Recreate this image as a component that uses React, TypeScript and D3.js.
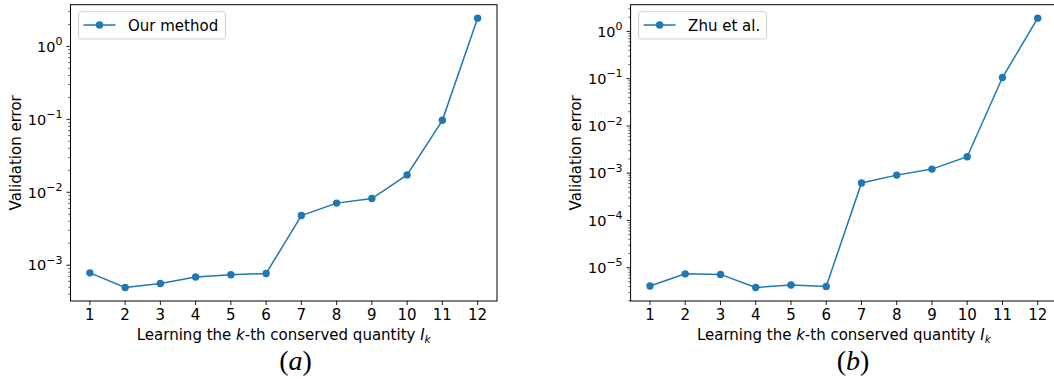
import React, { useEffect, useRef } from "react";
import * as d3 from "d3";

// k index of the conserved quantity
const ks = [1, 2, 3, 4, 5, 6, 7, 8, 9, 10, 11, 12];

// validation error
const ourMethod = [7.85e-4, 4.94e-4, 5.6e-4, 6.9e-4, 7.4e-4, 7.7e-4, 4.8e-3, 7.1e-3, 8.2e-3, 1.73e-2, 0.097, 2.44];
const zhuEtAl = [4.1e-6, 7.4e-6, 7.2e-6, 3.8e-6, 4.3e-6, 4.0e-6, 6.2e-4, 9.1e-4, 1.22e-3, 2.23e-3, 0.106, 1.91];

const seriesNames = ["Our method", "Zhu et al."];
const panelTags = ["a", "b"];

const BLUE = "#1f77b4";
const FONT = "'DejaVu Sans', sans-serif";

const App = () => {
  const svgRef = useRef<SVGSVGElement>(null);

  useEffect(() => {
    const svg = d3.select(svgRef.current);
    svg.selectAll("*").remove();

    const panels = [
      { values: ourMethod, name: seriesNames[0], tag: panelTags[0], left: 70.5, capX: 295.5, legendW: 147 },
      { values: zhuEtAl, name: seriesNames[1], tag: panelTags[1], left: 630.6, capX: 853, legendW: 128 },
    ];
    const top = 4.7;
    const plotW = 426.5;
    const plotH = 296.3;

    panels.forEach((p) => {
      const g = svg.append("g").attr("transform", `translate(${p.left},${top})`);

      const x = d3.scaleLinear().domain([0.45, 12.55]).range([0, plotW]);
      const lo = Math.log10(d3.min(p.values)!);
      const hi = Math.log10(d3.max(p.values)!);
      const pad = (hi - lo) * 0.05;
      const y = d3
        .scaleLog()
        .domain([Math.pow(10, lo - pad), Math.pow(10, hi + pad)])
        .range([plotH, 0]);

      // minor / major log ticks
      const [d0, d1] = y.domain();
      const majors: number[] = [];
      const minors: number[] = [];
      for (let e = Math.floor(Math.log10(d0)); e <= Math.ceil(Math.log10(d1)); e++) {
        const base = Math.pow(10, e);
        if (base >= d0 && base <= d1) majors.push(e);
        for (let m = 2; m <= 9; m++) {
          const v = m * base;
          if (v >= d0 && v <= d1) minors.push(v);
        }
      }

      g.selectAll("line.minor")
        .data(minors)
        .join("line")
        .attr("x1", -2.2)
        .attr("x2", 0)
        .attr("y1", (d) => y(d))
        .attr("y2", (d) => y(d))
        .attr("stroke", "#000")
        .attr("stroke-width", 0.7);

      g.selectAll("line.major")
        .data(majors)
        .join("line")
        .attr("x1", -4)
        .attr("x2", 0)
        .attr("y1", (d) => y(Math.pow(10, d)))
        .attr("y2", (d) => y(Math.pow(10, d)))
        .attr("stroke", "#000")
        .attr("stroke-width", 0.9);

      const yl = g
        .selectAll("text.ytick")
        .data(majors)
        .join("text")
        .attr("class", "ytick")
        .attr("x", -8)
        .attr("y", (d) => y(Math.pow(10, d)) + 5.3)
        .attr("text-anchor", "end")
        .style("font-family", FONT)
        .style("font-size", "14.5px")
        .attr("fill", "#000");
      yl.append("tspan").text("10");
      yl.append("tspan")
        .attr("dy", -6.5)
        .style("font-size", "11px")
        .text((d) => (d < 0 ? "\u2212" + -d : String(d)));

      // x ticks
      g.selectAll("line.xtick")
        .data(ks)
        .join("line")
        .attr("x1", (d) => x(d))
        .attr("x2", (d) => x(d))
        .attr("y1", plotH)
        .attr("y2", plotH + 4)
        .attr("stroke", "#000")
        .attr("stroke-width", 0.9);

      g.selectAll("text.xtick")
        .data(ks)
        .join("text")
        .attr("class", "xtick")
        .attr("x", (d) => x(d))
        .attr("y", plotH + 19.5)
        .attr("text-anchor", "middle")
        .style("font-family", FONT)
        .style("font-size", "15px")
        .attr("fill", "#000")
        .text((d) => d);

      // spines
      g.append("rect")
        .attr("x", 0)
        .attr("y", 0)
        .attr("width", plotW)
        .attr("height", plotH)
        .attr("fill", "none")
        .attr("stroke", "#000")
        .attr("stroke-width", 1);

      // series
      const line = d3
        .line<number>()
        .x((_, i) => x(ks[i]))
        .y((d) => y(d));
      g.append("path")
        .datum(p.values)
        .attr("d", line)
        .attr("fill", "none")
        .attr("stroke", BLUE)
        .attr("stroke-width", 1.5);
      g.selectAll("circle.pt")
        .data(p.values)
        .join("circle")
        .attr("cx", (_, i) => x(ks[i]))
        .attr("cy", (d) => y(d))
        .attr("r", 3.7)
        .attr("fill", BLUE);

      // legend
      const lg = g.append("g").attr("transform", "translate(8,7)");
      lg.append("rect")
        .attr("width", p.legendW)
        .attr("height", 27.3)
        .attr("rx", 2.5)
        .attr("fill", "#fff")
        .attr("fill-opacity", 0.8)
        .attr("stroke", "#d0d0d0")
        .attr("stroke-width", 1);
      lg.append("line")
        .attr("x1", 5)
        .attr("x2", 37)
        .attr("y1", 13.3)
        .attr("y2", 13.3)
        .attr("stroke", BLUE)
        .attr("stroke-width", 1.5);
      lg.append("circle").attr("cx", 21).attr("cy", 13.3).attr("r", 3.7).attr("fill", BLUE);
      lg.append("text")
        .attr("x", 49.5)
        .attr("y", 19)
        .style("font-family", FONT)
        .style("font-size", "15px")
        .attr("fill", "#000")
        .text(p.name);

      // axis labels
      svg.append("text")
        .attr("transform", `translate(${p.left - 50},${top + plotH / 2}) rotate(-90)`)
        .attr("text-anchor", "middle")
        .style("font-family", FONT)
        .style("font-size", "15px")
        .attr("fill", "#000")
        .text("Validation error");

      const xl = svg
        .append("text")
        .attr("x", p.left + plotW / 2)
        .attr("y", top + plotH + 38.5)
        .attr("text-anchor", "middle")
        .style("font-family", FONT)
        .style("font-size", "15px")
        .attr("fill", "#000");
      xl.append("tspan").text("Learning the ");
      xl.append("tspan").style("font-style", "italic").text("k");
      xl.append("tspan").text("-th conserved quantity ");
      xl.append("tspan").style("font-style", "italic").text("I");
      xl.append("tspan").attr("dy", 3).style("font-style", "italic").style("font-size", "10.5px").text("k");

      // panel caption
      const cap = svg
        .append("text")
        .attr("x", p.capX)
        .attr("y", 370)
        .attr("text-anchor", "middle")
        .style("font-family", "'Liberation Serif', serif")
        .style("font-size", "28px")
        .attr("fill", "#000");
      cap.append("tspan").text("(");
      cap.append("tspan").style("font-style", "italic").text(p.tag);
      cap.append("tspan").text(")");
    });
  }, []);

  return (
    <svg
      ref={svgRef}
      width={1054}
      height={379}
      style={{ position: "absolute", left: 0, top: 0, background: "#fff", display: "block" }}
    />
  );
};

export default App;
